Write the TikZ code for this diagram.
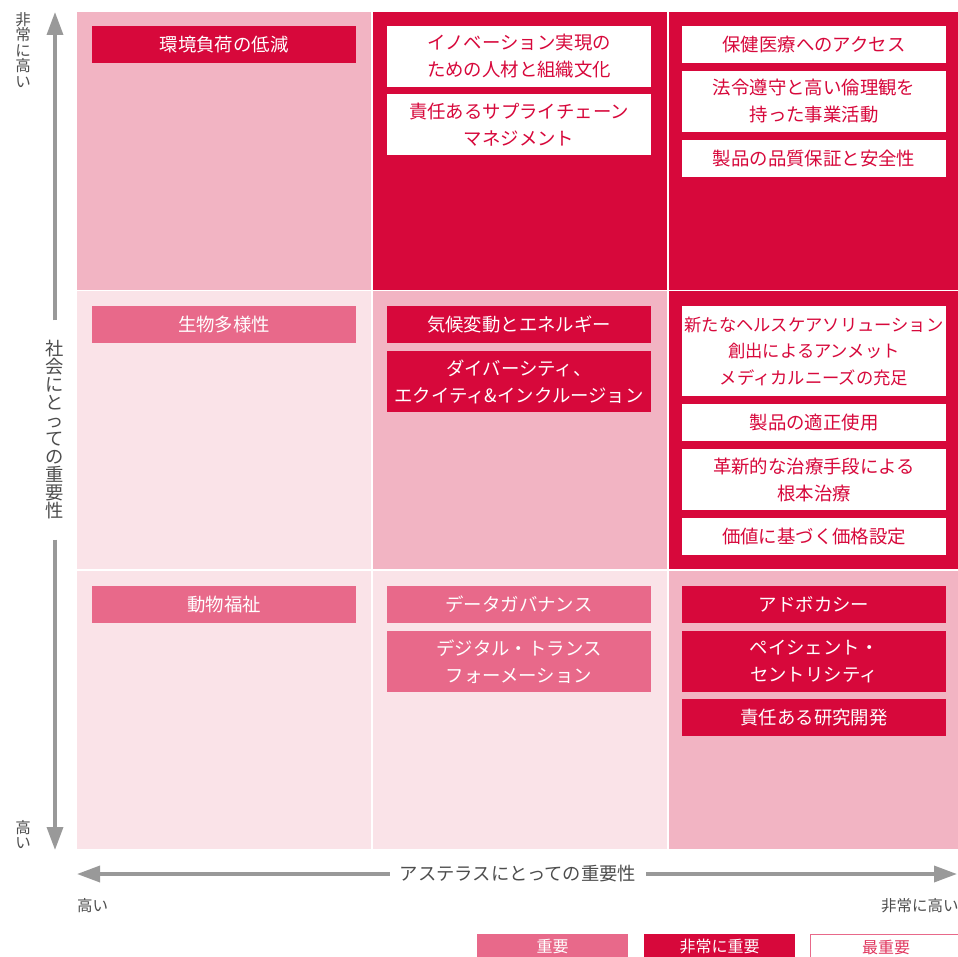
\documentclass[tikz,border=0pt]{standalone}
\usepackage{fontspec}
\setmainfont{Noto Sans CJK JP}
\usetikzlibrary{arrows.meta}

\definecolor{juyo}{HTML}{E8698A}
\definecolor{hijo}{HTML}{D7083B}
\definecolor{saijuyo}{HTML}{E0365E}
\definecolor{cellmid}{HTML}{F2B4C3}
\definecolor{cellpale}{HTML}{FAE3E8}
\definecolor{axisgray}{HTML}{999999}
\definecolor{labelgray}{HTML}{4D4D4D}

\tikzset{
  cell/.style={anchor=north west, minimum width=294pt, minimum height=278pt, inner sep=0pt, outer sep=0pt},
  item/.style={anchor=north west, minimum width=264pt, inner sep=0pt, outer sep=0pt, align=center,
    font=\fontsize{18.4}{27}\selectfont},
  lv1/.style={item, fill=juyo, text=white},
  lv2/.style={item, fill=hijo, text=white},
  lv3/.style={item, fill=white, text=hijo},
  axis/.style={draw=axisgray, line width=3.5pt, -{Triangle[width=16pt,length=23pt]}},
  axislabel/.style={text=labelgray, font=\fontsize{18.3}{18}\selectfont, align=center},
  small/.style={text=labelgray, font=\fontsize{15.5}{15.5}\selectfont, align=center, inner sep=0pt},
}

\begin{document}
\begin{tikzpicture}[x=1pt, y=-1pt]
  \useasboundingbox (0,0) rectangle (957,957);

  % matrix cells
  \node [cell, fill=cellmid](c11) at (77,12) {};
  \node [cell, fill=hijo](c12) at (373,12) {};
  \node [cell, fill=hijo](c13) at (669,12) {};
  \node [cell, fill=cellpale](c21) at (77,291) {};
  \node [cell, fill=cellmid](c22) at (373,291) {};
  \node [cell, fill=hijo](c23) at (669,291) {};
  \node [cell, fill=cellpale](c31) at (77,571) {};
  \node [cell, fill=cellpale](c32) at (373,571) {};
  \node [cell, fill=cellmid](c33) at (669,571) {};

  % top row
  \node [lv2, minimum height=37pt](kankyo) at (92,26) {環境負荷の低減};
  \node [lv3, minimum height=61pt](innov) at (387,26) {イノベーション実現の\\ための人材と組織文化};
  \node [lv3, minimum height=61pt](supply) at (387,94) {責任あるサプライチェーン\\マネジメント};
  \node [lv3, minimum height=37pt](access) at (682,26) {保健医療へのアクセス};
  \node [lv3, minimum height=61pt](ethics) at (682,71) {法令遵守と高い倫理観を\\持った事業活動};
  \node [lv3, minimum height=37pt](quality) at (682,140) {製品の品質保証と安全性};

  % middle row
  \node [lv1, minimum height=37pt](bio) at (92,306) {生物多様性};
  \node [lv2, minimum height=37pt](climate) at (387,306) {気候変動とエネルギー};
  \node [lv2, minimum height=61pt](dei) at (387,351) {ダイバーシティ、\\エクイティ\&インクルージョン};
  \node [lv3, minimum height=90pt, font=\fontsize{17.3}{26.5}\selectfont](unmet) at (682,306)
    {新たなヘルスケアソリューション\\創出によるアンメット\\メディカルニーズの充足};
  \node [lv3, minimum height=37pt](proper) at (682,404) {製品の適正使用};
  \node [lv3, minimum height=61pt](cure) at (682,449) {革新的な治療手段による\\根本治療};
  \node [lv3, minimum height=37pt](price) at (682,518) {価値に基づく価格設定};

  % bottom row
  \node [lv1, minimum height=37pt](animal) at (92,586) {動物福祉};
  \node [lv1, minimum height=37pt](data) at (387,586) {データガバナンス};
  \node [lv1, minimum height=61pt](dx) at (387,631) {デジタル・トランス\\フォーメーション};
  \node [lv2, minimum height=37pt](advocacy) at (682,586) {アドボカシー};
  \node [lv2, minimum height=61pt](patient) at (682,631) {ペイシェント・\\セントリシティ};
  \node [lv2, minimum height=37pt](rnd) at (682,699) {責任ある研究開発};

  % axes
  \coordinate (ytop) at (55,12);
  \coordinate (ybot) at (55,850);
  \coordinate (xleft) at (77,874);
  \coordinate (xright) at (957,874);
  \node [axislabel, inner xsep=0pt, inner ysep=20pt](society) at (55,430)
    {社\\会\\に\\と\\っ\\て\\の\\重\\要\\性};
  \node [axislabel, inner xsep=10pt, inner ysep=0pt](astellas) at (518,874) {アステラスにとっての重要性};
  \draw [axis] (society.north) -- (ytop);
  \draw [axis] (society.south) -- (ybot);
  \draw [axis] (astellas.west) -- (xleft);
  \draw [axis] (astellas.east) -- (xright);

  \node [small, anchor=north](yhigh) at (23,12) {非\\常\\に\\高\\い};
  \node [small, anchor=south](ylow) at (23,849) {高\\い};
  \node [small, anchor=west](xlow) at (77,906) {高い};
  \node [small, anchor=west](xhigh) at (881,906) {非常に高い};

  % legend
  \node [lv1, minimum width=151pt, minimum height=25pt, font=\fontsize{16}{16}\selectfont](leg1) at (477,934) {重要};
  \node [lv2, minimum width=151pt, minimum height=25pt, font=\fontsize{16}{16}\selectfont](leg2) at (644,934) {非常に重要};
  \node [item, minimum width=151pt, minimum height=25pt, draw=juyo, line width=1.2pt, fill=white,
    text=saijuyo, font=\fontsize{16}{16}\selectfont](leg3) at (810.6,934.6) {最重要};
\end{tikzpicture}
\end{document}
